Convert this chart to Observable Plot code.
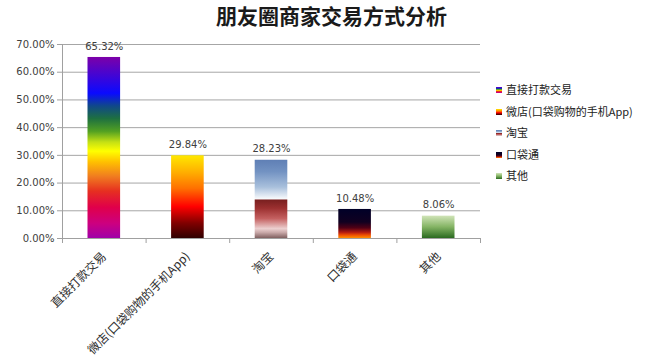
<!DOCTYPE html>
<html><head><meta charset="utf-8">
<script src="https://cdn.jsdelivr.net/npm/d3@7"></script>
<script src="https://cdn.jsdelivr.net/npm/@observablehq/plot@0.6"></script>
<style>
body{margin:0;background:#fff;}
#wrap{position:relative;width:663px;height:358px;overflow:hidden;background:#fff;}
#title{position:absolute;left:0;top:0;width:663px;height:36px;text-align:center;font-family:"Noto Sans CJK SC";font-weight:bold;font-size:21px;line-height:30px;color:#1a1a1a;}
#chart{position:absolute;left:0;top:36px;}
#legend{position:absolute;left:496px;top:81px;font-family:"Noto Sans CJK SC";font-size:11px;color:#222;}
#legend .row{height:21.6px;line-height:16px;white-space:nowrap;}
#legend .sw{display:inline-block;width:6px;height:6px;margin-right:4px;vertical-align:middle;position:relative;top:-1px;}
</style></head>
<body><div id="wrap"><div id="title">朋友圈商家交易方式分析</div><div id="chart"></div><div id="legend"></div></div>
<script>
const categories = ["直接打款交易","微店(口袋购物的手机App)","淘宝","口袋通","其他"];
const values = [0.6532, 0.2984, 0.2823, 0.1048, 0.0806];
const valueLabels = ["65.32%","29.84%","28.23%","10.48%","8.06%"];
const yTicks = [0, 0.1, 0.2, 0.3, 0.4, 0.5, 0.6, 0.7];
const xBoundaries = [0, 1, 2, 3, 4, 5];

// gradient fills (top -> bottom), style only
const gradients = [
  [[0,"#7c00a8"],[0.2,"#0a0aff"],[0.27,"#10488a"],[0.34,"#1e7040"],[0.41,"#52a022"],[0.47,"#c4e014"],[0.52,"#ffff00"],[0.58,"#ffc000"],[0.66,"#f07c20"],[0.74,"#e63020"],[0.83,"#e0004a"],[0.92,"#cc0080"],[1,"#a000a8"]],
  [[0,"#ffe800"],[0.2,"#ffb000"],[0.4,"#ff7000"],[0.62,"#ff0000"],[0.82,"#800000"],[1,"#300000"]],
  [[0,"#5f7fb5"],[0.15,"#7292c2"],[0.35,"#a9c0dc"],[0.5,"#f8fafc"],[0.515,"#7a2020"],[0.62,"#9c3030"],[0.75,"#c46060"],[0.88,"#ecd0d0"],[0.93,"#c8a8a8"],[1,"#806060"]],
  [[0,"#000028"],[0.45,"#100020"],[0.65,"#500015"],[0.8,"#b01a10"],[0.9,"#f05000"],[1,"#ff9000"]],
  [[0,"#d0e4b8"],[0.5,"#84b464"],[1,"#2a6a20"]]
];

const defsMark = () => {
  const defs = d3.create("svg:defs");
  gradients.forEach((stops, i) => {
    const g = defs.append("linearGradient").attr("id", "g" + i)
      .attr("x1", 0).attr("y1", 0).attr("x2", 0).attr("y2", 1);
    stops.forEach(([o, c]) => g.append("stop").attr("offset", o).attr("stop-color", c));
  });
  return defs.node();
};

const idx = values.map((v, i) => i);

const plot = Plot.plot({
  width: 663,
  height: 322,
  marginTop: 8,
  marginBottom: 120,
  marginLeft: 62,
  marginRight: 183,
  style: {fontFamily: "DejaVu Sans", fontSize: "10px", background: "#fff"},
  x: {type: "linear", domain: [0, 5], axis: null},
  y: {domain: [0, 0.7], axis: null},
  marks: [
    defsMark,
    Plot.gridY(yTicks, {stroke: "#a6a6a6", strokeOpacity: 1}),
    Plot.ruleX([0], {stroke: "#a0a0a0"}),
    Plot.ruleY([0], {stroke: "#a0a0a0"}),
    Plot.axisY({ticks: yTicks, tickFormat: d3.format(".2%"), tickSize: 5, tickPadding: 3, stroke: "#a0a0a0", fill: "#404040", fontSize: 10}),
    Plot.axisX({ticks: xBoundaries, tickFormat: () => "", tickSize: 5, stroke: "#a0a0a0"}),
    ...idx.map(i => Plot.rectY([i], {x1: d => d, x2: d => d + 1, y: d => values[d], insetLeft: 25.5, insetRight: 25.5, fill: `url(#g${i})`})),
    Plot.text(idx, {x: d => d + 0.5, y: d => values[d], text: d => valueLabels[d], dy: -11, fill: "#404040", fontSize: 10}),
    Plot.text(idx, {x: d => d + 0.5, y: 0, text: d => categories[d], rotate: -45, textAnchor: "end", lineAnchor: "middle", dy: 16, dx: 0, fill: "#303030", fontSize: 12, fontFamily: "Noto Sans CJK SC"})
  ]
});
document.getElementById("chart").appendChild(plot);

const legend = d3.select("#legend");
categories.forEach((c, i) => {
  const row = legend.append("div").attr("class", "row");
  row.append("span").attr("class", "sw")
    .style("background", "linear-gradient(to bottom," + gradients[i].map(([o, col]) => col + " " + (o * 100) + "%").join(",") + ")");
  row.append("span").text(c);
});
</script>
</body></html>
